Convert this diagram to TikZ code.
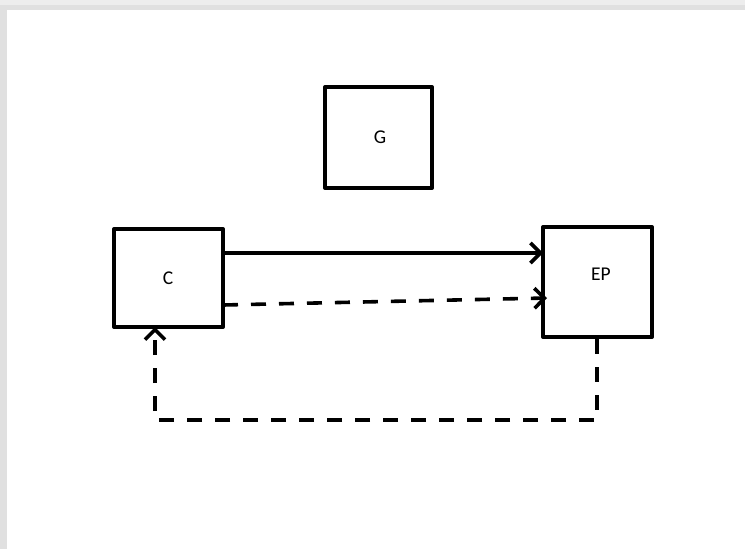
\documentclass[tikz,border=0pt]{standalone}
\usepackage{fontspec}
\setmainfont{Carlito}
\usetikzlibrary{arrows.meta}
\begin{document}
\begin{tikzpicture}[x=1pt,y=-1pt,
  box/.style={draw,line width=4pt,minimum width=#1,inner sep=0pt,line join=round},
  lbl/.style={font=\fontsize{19.5}{22}\selectfont,inner sep=0pt},
  link/.style={line width=3.6pt,-{Straight Barb[length=10pt,width=20pt,line width=3.6pt]}},
  dashlink/.style={link,dash pattern=on 15pt off 13pt}]
\useasboundingbox (0,0) rectangle (745,549);
\fill[black!12] (0,0) rectangle (745,549);
\fill[black!7] (0,0) rectangle (745,5);
\fill[white] (7,10) rectangle (745,549);
% boxes
\node[box=107pt,minimum height=101pt] (G) at (378.5,137.5) {};
\node[lbl] (Gt) at (380,137) {G};
\node[box=109pt,minimum height=98pt] (C) at (168.5,278) {};
\node[lbl] (Ct) at (168,278) {C};
\node[box=109pt,minimum height=110pt] (EP) at (597.5,282) {};
\node[lbl] (EPt) at (601,274) {EP};
% connectors
\coordinate (a1) at (223,253);
\coordinate (a2) at (543,253);
\draw[link] (a1) -- (a2);
\coordinate (b1) at (223,305);
\coordinate (b2) at (547,298);
\draw[dashlink] (b1) -- (b2);
\coordinate (c1) at (597,339);
\coordinate (c2) at (597,420);
\coordinate (c3) at (155,420);
\coordinate (c4) at (155,327);
\draw[dashlink] (c1) -- (c2) -- (c3) -- (c4);
\end{tikzpicture}
\end{document}
